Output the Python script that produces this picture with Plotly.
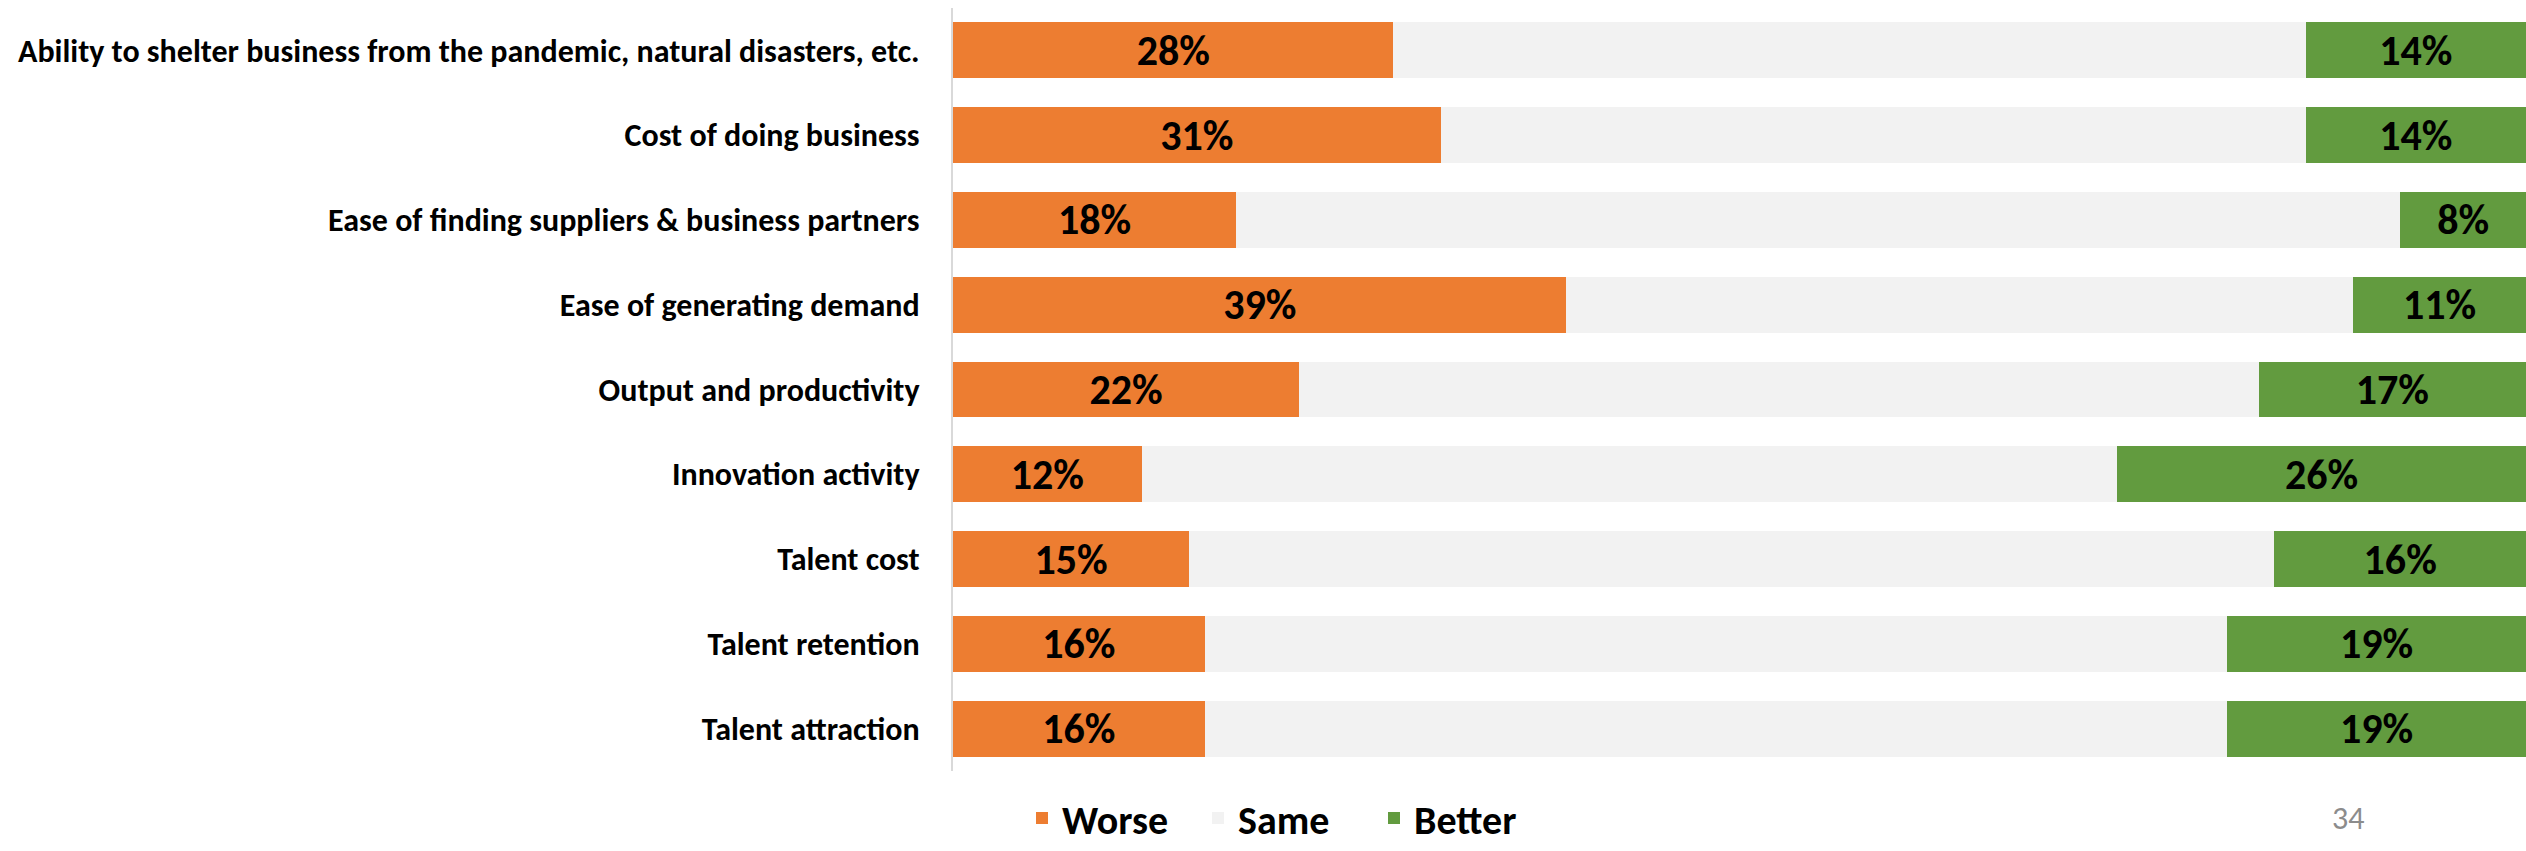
import plotly.graph_objects as go

categories = [
    "Ability to shelter business from the pandemic, natural disasters, etc.",
    "Cost of doing business",
    "Ease of finding suppliers & business partners",
    "Ease of generating demand",
    "Output and productivity",
    "Innovation activity",
    "Talent cost",
    "Talent retention",
    "Talent attraction",
]
worse = [28, 31, 18, 39, 22, 12, 15, 16, 16]
same = [58, 55, 74, 50, 61, 62, 69, 65, 65]
better = [14, 14, 8, 11, 17, 26, 16, 19, 19]

ORANGE = "#ED7D31"
GRAY = "#F2F2F2"
GREEN = "#629B3F"
FONT = "Carlito, Calibri, Lato, sans-serif"

W, H = 2526, 851
L, R, T, B = 953, 0, 8, 80

fig = go.Figure()
for name, vals, color, show in [
    ("Worse", worse, ORANGE, True),
    ("Same", same, GRAY, False),
    ("Better", better, GREEN, True),
]:
    fig.add_trace(go.Bar(
        name=name,
        y=categories,
        x=vals,
        orientation="h",
        marker=dict(color=color, line=dict(width=0)),
        text=[f"{v}%" for v in vals] if show else None,
        textposition="inside" if show else "none",
        insidetextanchor="middle",
        textangle=0,
        constraintext="none",
        textfont=dict(family=FONT, size=42, color="black", weight="bold"),
        hoverinfo="skip",
    ))

fig.update_layout(
    width=W, height=H,
    barmode="stack",
    bargap=0.34,
    paper_bgcolor="white",
    plot_bgcolor="white",
    margin=dict(l=L, r=R, t=T, b=B, pad=0, autoexpand=False),
    showlegend=True,
    legend=dict(
        orientation="h",
        xref="container", yref="container",
        x=(1032 - 10) / W,
        xanchor="left",
        y=1 - 818 / H,
        yanchor="middle",
        entrywidth=131,
        entrywidthmode="pixels",
        font=dict(family=FONT, size=40, color="black", weight="bold"),
        bgcolor="rgba(0,0,0,0)",
        traceorder="normal",
    ),
    annotations=[dict(
        text="34",
        xref="paper", yref="paper",
        x=(2348 - L) / (W - L - R),
        y=-(818 - (H - B)) / (H - T - B),
        xanchor="center", yanchor="middle",
        showarrow=False,
        font=dict(family=FONT, size=32, color="#8C8C8C"),
    )],
)
fig.update_xaxes(
    range=[0, 100],
    showgrid=False, zeroline=False, showticklabels=False, showline=False,
    fixedrange=True,
)
fig.update_yaxes(
    autorange="reversed",
    showgrid=False, zeroline=False,
    showline=True, linecolor="#D9D9D9", linewidth=2,
    ticks="",
    ticklabelstandoff=25,
    tickfont=dict(family=FONT, size=32, color="black", weight="bold"),
    fixedrange=True,
)

fig.write_html(
    "out.html",
    config={"displayModeBar": False},
    post_script="document.body.style.margin='0';document.body.style.overflow='hidden';",
)
